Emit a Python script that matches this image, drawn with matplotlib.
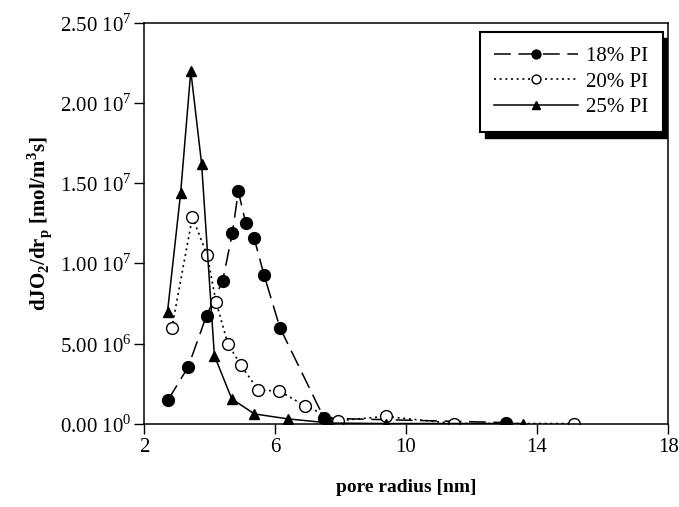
import numpy as np
import matplotlib.pyplot as plt
from matplotlib.patches import Rectangle

plt.rcParams['font.family'] = ['Liberation Serif', 'DejaVu Serif']
plt.rcParams['mathtext.fontset'] = 'custom'
plt.rcParams['mathtext.rm'] = 'Liberation Serif'
plt.rcParams['mathtext.bf'] = 'Liberation Serif:bold'

# pore radius [nm] and dJO2/drp [mol/m3 s]
r18 = [2.74, 3.35, 3.91, 4.40, 4.70, 4.88, 5.11, 5.36, 5.67, 6.15, 7.50, 13.04]
v18 = [1.5e6, 3.55e6, 6.75e6, 8.9e6, 11.9e6, 14.5e6, 12.5e6, 11.6e6, 9.25e6, 6.0e6, 0.35e6, 0.08e6]

r20 = [2.85, 3.48, 3.93, 4.20, 4.56, 4.96, 5.49, 6.13, 6.92, 7.93, 9.38, 11.47, 15.14]
v20 = [5.95e6, 12.9e6, 10.5e6, 7.6e6, 5.0e6, 3.65e6, 2.1e6, 2.05e6, 1.12e6, 0.2e6, 0.46e6, 0.02e6, 0.02e6]

r25 = [2.72, 3.12, 3.43, 3.76, 4.15, 4.68, 5.37, 6.39, 7.68, 9.38, 13.58]
v25 = [7.0e6, 14.4e6, 22.0e6, 16.2e6, 4.25e6, 1.56e6, 0.62e6, 0.31e6, 0.05e6, 0.02e6, 0.02e6]

yticks = [0, 5e6, 1e7, 1.5e7, 2e7, 2.5e7]
ytick_labels = ['0.00 10$^{0}$', '5.00 10$^{6}$', '1.00 10$^{7}$',
                '1.50 10$^{7}$', '2.00 10$^{7}$', '2.50 10$^{7}$']
xticks = [2, 6, 10, 14, 18]

fig = plt.figure(figsize=(6.79, 5.07), dpi=100)
ax = fig.add_axes([0.212, 0.164, 0.772, 0.791])

ax.plot(r18, v18, color='k', lw=1.1, dashes=(11, 5), marker='o', ms=8.5,
        mfc='k', mec='k', label='18% PI')
ax.plot(r20, v20, color='k', lw=1.2, dashes=(1.2, 2.2), marker='o', ms=8.5,
        mfc='white', mec='k', mew=1.0, label='20% PI')
ax.plot(r25, v25, color='k', lw=1.1, ls='-', marker='^', ms=7.5,
        mfc='k', mec='k', label='25% PI')

ax.set_xlim(2, 18)
ax.set_ylim(0, 2.5e7)
ax.set_xticks(xticks)
ax.set_yticks(yticks)
ax.set_yticklabels(ytick_labels)
ax.tick_params(axis='both', direction='out', length=7, width=1, labelsize=15)
ax.tick_params(axis='x', pad=3)
ax.tick_params(axis='y', pad=2)
for s in ax.spines.values():
    s.set_linewidth(1.1)

ax.set_xlabel('pore radius [nm]', fontsize=14, fontweight='bold', labelpad=16)
ax.set_ylabel('dJO$_\\mathbf{2}$/dr$_\\mathbf{p}$ [mol/m$^\\mathbf{3}$s]',
              fontsize=15, fontweight='bold', labelpad=4)

leg = ax.legend(loc='upper right', bbox_to_anchor=(0.99, 0.978), fontsize=15,
                handlelength=4.0, markerscale=0.75, fancybox=False,
                edgecolor='k', framealpha=1, borderpad=0.7, labelspacing=0.3,
                handletextpad=0.4, borderaxespad=0)
leg.get_frame().set_linewidth(1.5)
leg.set_zorder(5)

# drop shadow behind the legend box
fig.canvas.draw()
bb = leg.get_window_extent()
shadow = Rectangle((bb.x0 + 5, bb.y0 - 6), bb.width, bb.height,
                   transform=None, facecolor='k', edgecolor='k', zorder=4)
ax.add_artist(shadow)

fig.savefig('out.png', dpi=100)
